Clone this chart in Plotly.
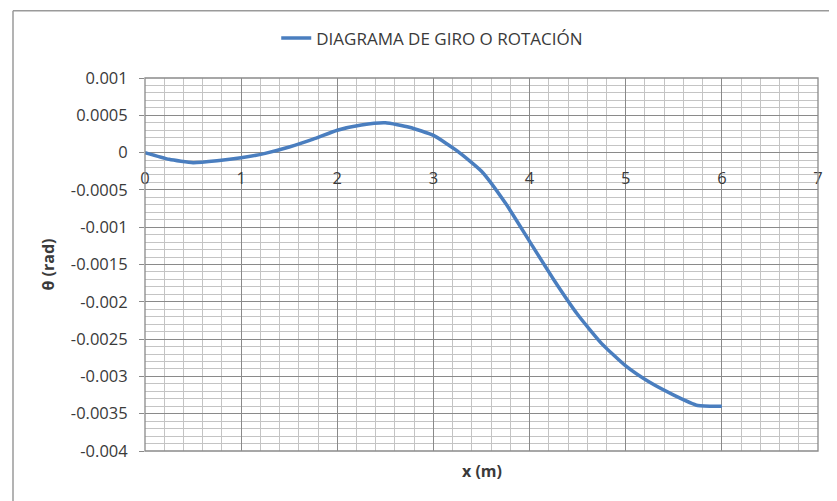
import plotly.graph_objects as go

# Data
x_m = [0, 0.25, 0.5, 0.75, 1.0, 1.25, 1.5, 1.75, 2.0, 2.25, 2.5, 2.75, 3.0,
       3.25, 3.5, 3.75, 4.0, 4.25, 4.5, 4.75, 5.0, 5.25, 5.5, 5.75, 6.0]
theta_rad = [0, -0.00009, -0.000135, -0.00011, -0.00007, -0.00001, 0.000075,
             0.00018, 0.0003, 0.00037, 0.0004, 0.00034, 0.00023, 0.00002,
             -0.00025, -0.00068, -0.00119, -0.0017, -0.00217, -0.00256,
             -0.00286, -0.00308, -0.00325, -0.00339, -0.0034]

series_name = "DIAGRAMA DE GIRO O ROTACIÓN"
x_ticks = [0, 1, 2, 3, 4, 5, 6, 7]
y_ticks = [0.001, 0.0005, 0, -0.0005, -0.001, -0.0015, -0.002, -0.0025,
           -0.003, -0.0035, -0.004]
y_ticktext = ["0.001", "0.0005", "0", "-0.0005", "-0.001", "-0.0015",
              "-0.002", "-0.0025", "-0.003", "-0.0035", "-0.004"]

FONT = "Open Sans"
TXT = "#3a3a3a"
MAJOR = "#8a8a8a"
MINOR = "#c4c4c4"

fig = go.Figure()
fig.add_trace(go.Scatter(
    x=x_m, y=theta_rad, mode="lines", name=series_name,
    line=dict(color="#4a7ebf", width=3.5, shape="spline", smoothing=0.5),
))

# page body has an 8px margin, so the figure starts at (8, 8) in the window
W, H = 837, 501
L, R, T, B = 137, 27, 66, 58
PW, PH = W - L - R, H - T - B

fig.update_layout(
    width=W, height=H,
    margin=dict(l=L, r=R, t=T, b=B, pad=0),
    paper_bgcolor="white", plot_bgcolor="white",
    font=dict(family=FONT, size=16, color=TXT),
    showlegend=True,
    legend=dict(
        orientation="h", x=0.195, y=1.106, xanchor="left", yanchor="middle",
        font=dict(family=FONT, size=17, color=TXT),
        bgcolor="rgba(0,0,0,0)",
    ),
    xaxis=dict(
        range=[0, 7], tickvals=x_ticks, ticktext=[str(v) for v in x_ticks],
        showgrid=True, gridcolor=MAJOR, gridwidth=1.3,
        minor=dict(dtick=0.2, tick0=0, showgrid=True, gridcolor=MINOR, gridwidth=1.3),
        zeroline=False, showline=False,
        anchor="free", position=0.8,
        ticks="", ticklabelstandoff=14,
        tickfont=dict(family=FONT, size=16.5, color=TXT),
        title=None,
    ),
    yaxis=dict(
        range=[-0.004, 0.001], tickvals=y_ticks, ticktext=y_ticktext,
        showgrid=True, gridcolor=MAJOR, gridwidth=1.3,
        minor=dict(dtick=0.0001, tick0=0, showgrid=True, gridcolor=MINOR, gridwidth=1.3),
        zeroline=True, zerolinecolor=MAJOR, zerolinewidth=1.3,
        showline=False,
        ticks="outside", ticklen=5, tickcolor=MAJOR, ticklabelstandoff=8,
        tickfont=dict(family=FONT, size=16.5, color=TXT),
        title=dict(text="<b>θ (rad)</b>", font=dict(family=FONT, size=16, color=TXT),
                   standoff=12),
    ),
)

# x-axis title placed below the plot area
fig.add_annotation(
    text="<b>x (m)</b>", xref="paper", yref="paper", x=0.5, y=-0.019,
    xanchor="center", yanchor="top", showarrow=False,
    font=dict(family=FONT, size=16, color=TXT),
)

# plot area border
fig.add_shape(type="rect", xref="paper", yref="paper", x0=0, y0=0, x1=1, y1=1,
              line=dict(color=MAJOR, width=1.3), layer="above")

# chart frame (outer border)
fx0 = (13 - 8 - L) / PW
fy1 = (PH + T - (6 - 8)) / PH
fig.add_shape(type="line", xref="paper", yref="paper", x0=fx0, x1=fx0, y0=-0.3, y1=fy1,
              line=dict(color="#9a9a9a", width=1.5))
fig.add_shape(type="line", xref="paper", yref="paper", x0=fx0, x1=1.2, y0=fy1, y1=fy1,
              line=dict(color="#9a9a9a", width=1.5))

fig.write_html("out.html")
